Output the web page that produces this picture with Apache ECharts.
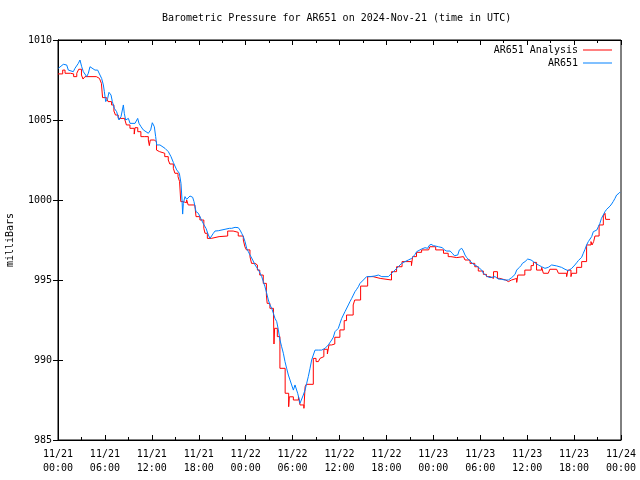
<!DOCTYPE html>
<html>
<head>
<meta charset="utf-8">
<script src="https://cdn.jsdelivr.net/npm/echarts@6/dist/echarts.min.js"></script>
<style>html,body{margin:0;padding:0;background:#fff}#c{width:640px;height:480px}</style>
</head>
<body>
<div id="c"></div>
<script>
// hours since 2024-11-21 00:00 UTC
const xTickLabels = ['11/21\n00:00','11/21\n06:00','11/21\n12:00','11/21\n18:00','11/22\n00:00','11/22\n06:00','11/22\n12:00','11/22\n18:00','11/23\n00:00','11/23\n06:00','11/23\n12:00','11/23\n18:00','11/24\n00:00'];
const yTickLabels = [985, 990, 995, 1000, 1005, 1010];

const analysisHours = [0,0.6,0.9,1.6,2.0,2.4,2.65,3.0,3.2,3.45,4.9,5.3,5.55,5.7,6.2,6.4,6.85,7.15,7.35,7.7,8.5,8.75,9.2,9.75,9.85,10.2,10.6,11.1,11.3,11.55,11.68,11.8,12.3,12.6,12.85,13.0,13.65,14.1,14.3,14.75,14.95,15.35,15.55,15.7,16.0,16.2,16.45,16.65,17.5,17.65,18.15,18.65,18.8,19.1,19.6,20.6,20.75,21.7,22.4,23.05,23.7,23.9,24.1,24.55,24.75,25.2,25.5,25.8,26.25,26.65,26.75,27.1,27.55,27.62,27.7,28.05,28.38,29.05,29.5,29.58,30.1,30.75,30.95,31.45,31.6,31.75,32.65,33.0,33.3,33.5,33.7,34.0,34.45,34.65,35.0,35.4,36.05,36.6,36.9,37.75,37.95,38.7,39.6,40.3,41.2,42.65,43.3,44.0,45.2,45.35,45.85,46.5,47.4,47.55,48.3,49.3,49.9,50.25,51.0,51.85,52.05,52.7,53.3,53.75,54.4,54.8,55.25,55.7,56.2,56.5,57.25,57.6,58.0,58.66,58.8,59.7,60.5,60.8,61.2,61.85,62.07,62.7,62.9,63.77,64.0,65.05,65.2,65.6,65.7,66.33,66.97,67.6,68.16,68.3,68.5,68.67,69.2,69.74,69.95,70.04,70.6];
const analysisValues = [1007.88,1008.12,1007.92,1007.88,1007.71,1007.92,1008.17,1007.81,1007.56,1007.71,1007.6,1007.5,1007.29,1006.4,1006.35,1006.15,1005.94,1005.56,1005.31,1005.1,1005.0,1004.69,1004.48,1004.12,1004.52,1004.27,1003.96,1004.06,1003.96,1003.75,1003.4,1003.75,1003.65,1003.12,1003.02,1002.92,1002.71,1002.5,1002.25,1001.98,1001.67,1001.46,1001.15,999.9,1000.0,999.83,1000.0,999.69,999.58,998.96,998.75,998.23,997.92,997.6,997.71,997.6,997.75,998.06,997.98,997.75,997.5,997.08,996.88,996.46,996.04,995.94,995.62,995.31,994.79,994.06,993.54,993.23,993.12,991.0,991.98,991.46,989.48,987.92,987.08,987.7,987.5,987.71,987.19,986.98,988.33,988.48,990.1,989.9,989.79,990.1,990.21,990.67,990.38,990.94,991.0,991.42,991.88,992.46,992.81,993.44,993.75,994.62,995.21,995.1,995.0,995.52,995.83,996.15,995.9,996.46,996.73,996.88,996.98,997.08,996.88,996.67,996.46,996.4,996.46,996.4,996.25,996.04,995.83,995.56,995.35,995.21,995.1,995.52,995.1,995.0,994.9,995.0,995.1,994.85,995.31,995.62,995.9,996.1,995.62,995.79,995.42,995.31,995.67,995.79,995.42,995.21,995.62,995.21,995.42,995.79,996.15,997.19,997.4,997.19,997.4,997.75,998.44,999.0,999.17,998.79,998.79];

const obsHours = [0.04,0.68,1.11,1.32,1.96,2.17,2.6,2.81,3.03,3.24,3.67,3.88,4.09,4.3,4.73,5.07,5.37,5.58,5.8,5.93,6.1,6.35,6.52,6.78,6.95,7.2,7.5,7.8,8.06,8.36,8.48,8.65,9.0,9.21,9.42,9.85,10.19,10.36,10.62,10.91,11.13,11.55,11.85,12.06,12.32,12.49,12.62,13.04,13.26,13.68,14.11,14.45,14.75,15.18,15.52,15.73,15.86,15.94,16.03,16.24,16.46,16.67,16.88,17.22,17.39,17.65,17.95,18.08,18.25,18.5,18.67,18.93,19.23,19.44,19.65,19.87,20.08,20.5,20.72,21.36,21.57,21.91,22.0,22.21,22.64,23.06,23.28,23.49,23.7,23.92,24.13,24.34,24.56,24.9,25.2,25.49,25.75,26.05,26.26,26.47,26.69,26.9,27.11,27.33,27.54,27.75,27.97,28.18,28.39,28.6,28.82,29.03,29.24,29.46,29.67,29.88,30.1,30.31,30.52,30.65,30.82,30.95,31.16,31.37,31.59,31.8,32.01,32.23,32.44,32.65,32.87,33.29,33.72,33.93,34.15,34.57,35.0,35.21,35.42,35.64,35.85,36.06,36.28,36.49,36.7,36.92,37.13,37.34,37.56,37.77,37.98,38.2,38.41,38.62,38.83,39.05,39.47,39.69,39.9,40.11,40.54,40.97,41.18,41.4,41.82,42.25,42.67,43.1,43.52,43.95,44.38,44.8,45.23,45.66,45.87,46.09,46.51,46.94,47.28,47.45,47.71,48.0,48.22,48.64,48.86,49.16,49.41,49.71,49.92,50.14,50.43,50.69,50.86,51.12,51.33,51.63,51.84,52.05,52.27,52.48,52.69,52.91,53.12,53.33,53.55,53.76,54.19,54.4,54.61,54.95,55.25,55.46,55.89,56.32,56.74,57.17,57.6,57.81,58.02,58.45,58.66,58.96,59.22,59.39,59.73,60.07,60.24,60.5,60.79,61.09,61.43,61.85,62.28,62.7,63.13,63.77,64.0,64.4,64.84,65.26,65.7,66.1,66.33,66.54,66.97,67.18,67.4,67.6,67.82,67.9,68.03,68.25,68.46,68.67,68.9,69.1,69.3,69.5,69.74,69.95,70.17,70.4,70.6,70.8,71.0,71.23,71.44,71.74,71.9];
const obsValues = [1008.23,1008.48,1008.44,1008.12,1008.02,1008.23,1008.54,1008.75,1008.33,1008.02,1007.71,1007.92,1008.33,1008.27,1008.12,1008.12,1007.81,1007.6,1007.19,1006.77,1006.15,1006.35,1006.73,1006.56,1006.15,1005.73,1005.52,1005.0,1005.21,1005.94,1005.42,1005.0,1005.1,1004.79,1004.69,1004.79,1005.1,1004.79,1004.58,1004.38,1004.27,1004.17,1004.38,1004.83,1004.58,1003.96,1003.44,1003.44,1003.33,1003.23,1003.02,1002.71,1002.35,1001.88,1001.67,1001.04,1000.0,999.12,999.79,1000.21,1000.04,1000.1,1000.25,1000.17,999.9,999.27,999.17,999.21,998.85,998.75,998.44,998.23,997.81,997.6,997.71,997.92,998.06,998.08,998.12,998.17,998.23,998.23,998.12,998.23,998.29,998.27,998.12,997.92,997.71,997.4,996.98,996.77,996.56,996.25,995.94,995.73,995.52,995.21,994.9,994.58,994.17,993.75,993.44,993.23,992.92,992.6,992.4,991.88,991.25,990.83,990.42,989.9,989.48,989.06,988.75,988.44,988.12,988.44,988.44,987.92,987.6,987.29,987.4,987.81,988.12,988.54,988.96,989.48,990.0,990.31,990.62,990.62,990.62,990.52,990.73,990.94,991.25,991.42,991.77,991.88,991.98,992.29,992.6,992.81,993.02,993.12,993.44,993.65,993.85,994.06,994.27,994.42,994.58,994.79,994.9,995.0,995.21,995.27,995.21,995.25,995.25,995.31,995.38,995.21,995.21,995.21,995.42,995.62,995.83,996.04,996.15,996.25,996.35,996.6,996.77,996.88,996.94,997.02,996.98,997.15,997.23,997.15,997.08,997.08,996.98,997.02,996.88,996.81,996.88,996.81,996.67,996.52,996.4,996.56,996.88,996.98,996.81,996.56,996.4,996.35,996.19,996.1,995.98,995.94,995.88,995.77,995.62,995.42,995.31,995.21,995.15,995.21,995.21,995.06,995.04,995.0,995.0,995.06,995.15,995.35,995.62,995.77,995.9,996.04,996.15,996.31,996.19,996.25,996.15,996.04,995.94,995.83,995.73,995.79,995.94,995.88,995.79,995.79,995.67,995.58,995.73,995.94,996.08,996.21,996.42,996.67,996.92,997.19,997.4,997.29,997.5,997.71,998.02,997.92,998.12,998.33,998.54,998.85,998.96,999.27,999.42,999.52,999.62,999.75,999.9,1000.1,1000.31,1000.42,1000.5];

const FONT = 'DejaVu Sans Mono';
const zip = (a, b) => a.map((h, i) => [h, b[i]]);

const chart = echarts.init(document.getElementById('c'));
const tickStyle = { show: true, inside: true, length: 5, lineStyle: { color: '#000', width: 1 } };
const minorStyle = { show: true, splitNumber: 2, length: 3, lineStyle: { color: '#000', width: 1 } };
const lineAx = { show: true, lineStyle: { color: '#000', width: 1 } };
const lab = { color: '#000', fontFamily: FONT, fontSize: 10 };

chart.setOption({
  animation: false,
  backgroundColor: '#fff',
  title: {
    text: 'Barometric Pressure for AR651 on 2024-Nov-21 (time in UTC)',
    left: 162, top: 13, padding: 0,
    textStyle: { color: '#000', fontFamily: FONT, fontSize: 10, fontWeight: 'normal' }
  },
  legend: [
    { data: ['AR651 Analysis'], right: 28, top: 45, padding: 0, orient: 'vertical', align: 'right',
      icon: 'rect', itemWidth: 29, itemHeight: 1, textStyle: lab },
    { data: ['AR651'], right: 28, top: 58, padding: 0, orient: 'vertical', align: 'right',
      icon: 'rect', itemWidth: 29, itemHeight: 1, textStyle: lab }
  ],
  grid: { left: 58, right: 19, top: 40, bottom: 40, show: true, borderColor: '#000', borderWidth: 1,
    containLabel: false, outerBoundsMode: 'none' },
  xAxis: [
    { type: 'value', min: 0, max: 72, interval: 6, position: 'bottom',
      axisLine: lineAx, axisTick: tickStyle, minorTick: minorStyle, splitLine: { show: false },
      axisLabel: Object.assign({ margin: 7, lineHeight: 14, formatter: v => xTickLabels[Math.round(v / 6)] }, lab) },
    { type: 'value', min: 0, max: 72, interval: 6, position: 'top',
      axisLine: lineAx, axisTick: tickStyle, minorTick: minorStyle, splitLine: { show: false },
      axisLabel: { show: false } }
  ],
  yAxis: [
    { type: 'value', min: 985, max: 1010, interval: 5, position: 'left',
      name: 'milliBars', nameLocation: 'middle', nameRotate: 90, nameGap: 43,
      nameTextStyle: lab,
      axisLine: lineAx, axisTick: tickStyle, splitLine: { show: false },
      axisLabel: Object.assign({ margin: 6, formatter: v => String(yTickLabels[Math.round((v - 985) / 5)]) }, lab) },
    { type: 'value', min: 985, max: 1010, interval: 5, position: 'right',
      axisLine: lineAx, axisTick: tickStyle, splitLine: { show: false },
      axisLabel: { show: false } }
  ],
  series: [
    { name: 'AR651 Analysis', type: 'line', step: 'end', symbol: 'none', showSymbol: false,
      data: zip(analysisHours, analysisValues), color: '#ff0000',
      lineStyle: { color: '#ff0000', width: 1 } },
    { name: 'AR651', type: 'line', symbol: 'none', showSymbol: false,
      data: zip(obsHours, obsValues), color: '#0080ff',
      lineStyle: { color: '#0080ff', width: 1 } }
  ]
});
</script>
</body>
</html>
